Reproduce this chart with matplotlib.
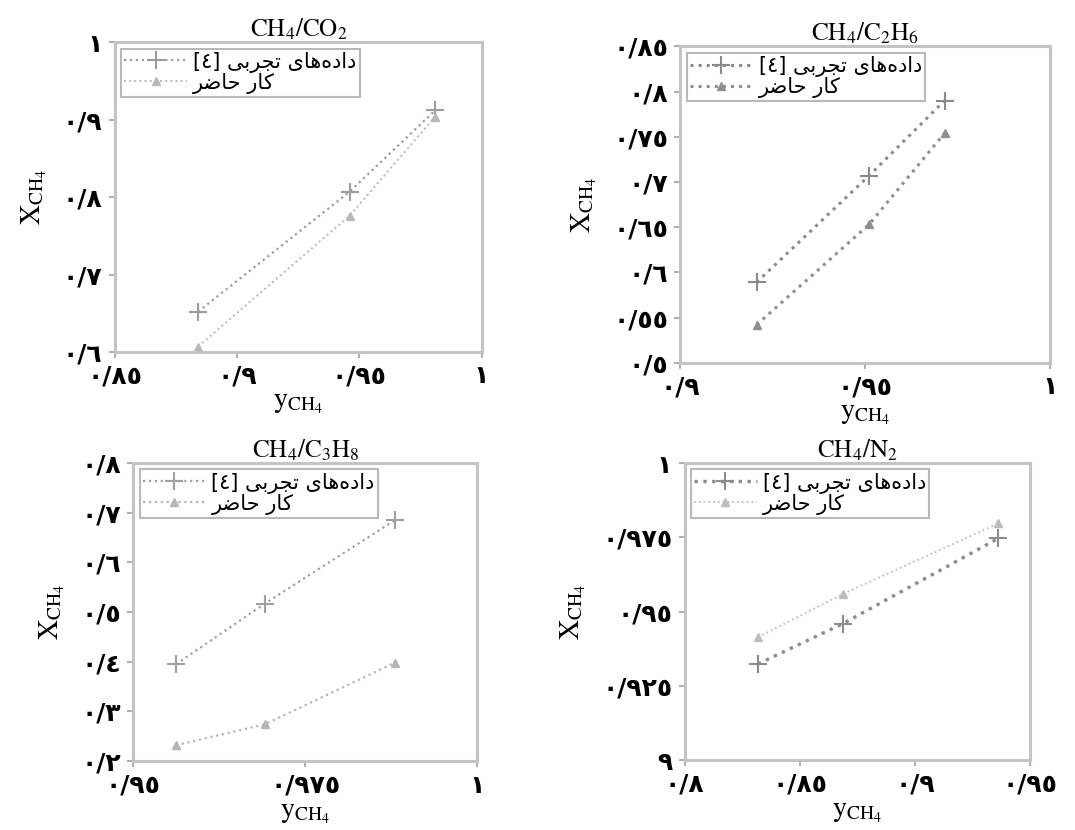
import matplotlib
matplotlib.use('Agg')
import matplotlib.pyplot as plt

plt.rcParams['mathtext.fontset'] = 'stix'
plt.rcParams['font.family'] = ['DejaVu Sans']

# legend labels, written in visual (shaped) order
LBL_EXP = "[\u0664] \uFEF0\uFE91\uFEAE\uFEA0\uFE97 \uFEEF\uFE8E\uFEEB\uFEE9\uFEA9\uFE8D\uFEA9"
LBL_MODEL = "\uFEAE\uFEBF\uFE8E\uFEA3 \uFEAD\uFE8E\uFB90"

# CH4/CO2
co2_y = [0.884, 0.946, 0.981]
co2_exp = [0.652, 0.807, 0.912]
co2_model = [0.607, 0.776, 0.904]
co2_xticks = [0.85, 0.90, 0.95, 1.00]
co2_xlabels = ['٠/٨٥', '٠/٩', '٠/٩٥', '١']
co2_yticks = [0.6, 0.7, 0.8, 0.9, 1.0]
co2_ylabels = ['٠/٦', '٠/٧', '٠/٨', '٠/٩', '١']

# CH4/C2H6
c2_y = [0.9206, 0.951, 0.9714]
c2_exp = [0.589, 0.707, 0.790]
c2_model = [0.542, 0.653, 0.754]
c2_xticks = [0.90, 0.95, 1.00]
c2_xlabels = ['٠/٩', '٠/٩٥', '١']
c2_yticks = [0.50, 0.55, 0.60, 0.65, 0.70, 0.75, 0.80, 0.85]
c2_ylabels = ['٠/٥', '٠/٥٥', '٠/٦', '٠/٦٥', '٠/٧', '٠/٧٥', '٠/٨', '٠/٨٥']

# CH4/C3H8
c3_y = [0.9562, 0.9691, 0.988]
c3_exp = [0.395, 0.517, 0.685]
c3_model = [0.232, 0.274, 0.398]
c3_xticks = [0.95, 0.975, 1.00]
c3_xlabels = ['٠/٩٥', '٠/٩٧٥', '١']
c3_yticks = [0.2, 0.3, 0.4, 0.5, 0.6, 0.7, 0.8]
c3_ylabels = ['٠/٢', '٠/٣', '٠/٤', '٠/٥', '٠/٦', '٠/٧', '٠/٨']

# CH4/N2
n2_y = [0.8318, 0.8688, 0.9363]
n2_exp = [0.9324, 0.946, 0.9747]
n2_model = [0.9414, 0.956, 0.9797]
n2_xticks = [0.80, 0.85, 0.90, 0.95]
n2_xlabels = ['٠/٨', '٠/٨٥', '٠/٩', '٠/٩٥']
n2_yticks = [0.9, 0.925, 0.95, 0.975, 1.0]
n2_ylabels = ['٩', '٠/٩٢٥', '٠/٩٥', '٠/٩٧٥', '١']

panels = [
    dict(rect=[0.107, 0.576, 0.341, 0.373], title=r'$\mathrm{CH_4/CO_2}$', tpad=3,
         x=co2_y, exp=co2_exp, model=co2_model,
         xt=co2_xticks, xl=co2_xlabels, yt=co2_yticks, yl=co2_ylabels,
         exp_c='#9c9c9c', exp_lw=1.6, mod_c='#b8b8b8', mod_lw=1.4),
    dict(rect=[0.633, 0.563, 0.344, 0.381], title=r'$\mathrm{CH_4/C_2H_6}$', tpad=3,
         x=c2_y, exp=c2_exp, model=c2_model,
         xt=c2_xticks, xl=c2_xlabels, yt=c2_yticks, yl=c2_ylabels,
         exp_c='#8a8a8a', exp_lw=2.2, mod_c='#8f8f8f', mod_lw=2.2),
    dict(rect=[0.124, 0.083, 0.320, 0.359], title=r'$\mathrm{CH_4/C_3H_8}$', tpad=0,
         x=c3_y, exp=c3_exp, model=c3_model,
         xt=c3_xticks, xl=c3_xlabels, yt=c3_yticks, yl=c3_ylabels,
         exp_c='#a0a0a0', exp_lw=1.6, mod_c='#b5b5b5', mod_lw=1.6),
    dict(rect=[0.637, 0.084, 0.321, 0.358], title=r'$\mathrm{CH_4/N_2}$', tpad=-2,
         x=n2_y, exp=n2_exp, model=n2_model,
         xt=n2_xticks, xl=n2_xlabels, yt=n2_yticks, yl=n2_ylabels,
         exp_c='#8c8c8c', exp_lw=2.4, mod_c='#bdbdbd', mod_lw=1.3),
]

fig = plt.figure(figsize=(10.75, 8.3), dpi=100)

for p in panels:
    ax = fig.add_axes(p['rect'])
    ax.plot(p['x'], p['exp'], linestyle=':', color=p['exp_c'], lw=p['exp_lw'],
            marker='+', ms=13, mew=1.5, label=LBL_EXP)
    ax.plot(p['x'], p['model'], linestyle=':', color=p['mod_c'], lw=p['mod_lw'],
            marker='^', ms=6, mec=p['mod_c'], label=LBL_MODEL)

    ax.set_xlim(p['xt'][0], p['xt'][-1])
    ax.set_ylim(p['yt'][0], p['yt'][-1])
    ax.set_xticks(p['xt'])
    ax.set_xticklabels(p['xl'], fontsize=18, fontweight='bold')
    ax.set_yticks(p['yt'])
    ax.set_yticklabels(p['yl'], fontsize=18, fontweight='bold')
    ax.tick_params(direction='out', length=4, width=1.5, color='#b0b0b0', pad=5)

    for s in ax.spines.values():
        s.set_color('#c4c4c4')
        s.set_linewidth(2.2)

    ax.set_title(p['title'], fontsize=18, pad=p['tpad'])
    ax.set_xlabel(r'$\mathrm{y_{CH_4}}$', fontsize=20, labelpad=0)
    ax.set_ylabel(r'$\mathrm{X_{CH_4}}$', fontsize=20, labelpad=10)

    leg = ax.legend(loc='upper left', fontsize=15, frameon=True, fancybox=False,
                    borderpad=0.15, labelspacing=0.0, handlelength=3.0,
                    handletextpad=0.3, borderaxespad=0.3)
    leg.get_frame().set_edgecolor('#a8a8a8')
    leg.get_frame().set_linewidth(1.5)

fig.savefig('out.png', dpi=100)
